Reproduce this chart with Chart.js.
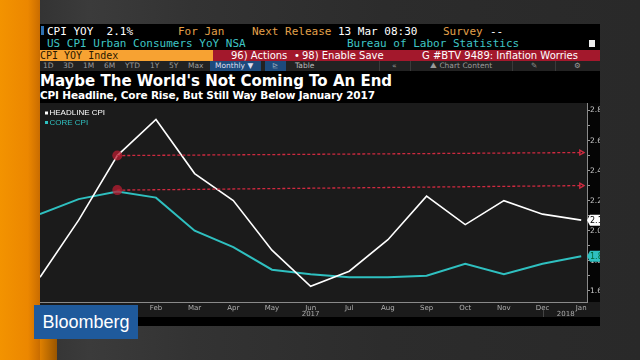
<!DOCTYPE html>
<html><head><meta charset="utf-8">
<script src="https://cdn.jsdelivr.net/npm/chart.js@4.4.1/dist/chart.umd.min.js"></script>
<style>
html,body{margin:0;padding:0;width:640px;height:360px;overflow:hidden;background:#2b2b2b;}
#bg{position:absolute;left:0;top:0;width:640px;height:360px;background:linear-gradient(90deg,#2e2e2e 0,#3b3b3b 14%,#333 30%,#2c2c2c 60%,#292929 100%);}
#orange{position:absolute;left:0;top:0;width:40px;height:360px;background:linear-gradient(90deg,#f39300 0,#ec8700 70%,#c96c00 100%);}
#orange2{position:absolute;left:40px;top:339px;width:17px;height:21px;background:linear-gradient(90deg,#df8000,#9a5600);}
#panel{position:absolute;left:40px;top:24px;width:560px;height:302px;background:#000;overflow:hidden;}
.m{position:absolute;font-family:"DejaVu Sans Mono",monospace;font-size:11px;line-height:13px;white-space:pre;}
.s{position:absolute;font-family:"DejaVu Sans",sans-serif;font-size:10px;line-height:11px;white-space:pre;color:#fff;}
.t{position:absolute;font-family:"DejaVu Sans",sans-serif;font-size:7.5px;line-height:10px;white-space:pre;color:#9a9a9a;}
.w{color:#fff}.o{color:#e3a04a}.c{color:#3fc6c6}
#row3a{position:absolute;left:0;top:26px;width:173px;height:11px;background:#f7a232;}
#row3b{position:absolute;left:173px;top:26px;width:387px;height:11px;background:#a3182c;}
#row4{position:absolute;left:0;top:37px;width:560px;height:10px;background:#222;}
.sep{position:absolute;top:37px;width:1px;height:10px;background:#3a3a3a;}
#title{position:absolute;left:0;top:50px;font-family:"DejaVu Sans",sans-serif;font-weight:bold;font-size:15px;line-height:15px;color:#fff;white-space:pre;}
#sub{position:absolute;left:0;top:66px;font-family:"DejaVu Sans",sans-serif;font-weight:bold;font-size:10.5px;letter-spacing:-0.15px;line-height:11px;color:#fff;white-space:pre;}
#cv{position:absolute;left:0;top:79px;}
#logo{position:absolute;left:34px;top:305px;width:104px;height:34px;background:#1f5a9c;color:#fff;font-family:"Liberation Sans",Arial,sans-serif;font-size:18px;line-height:34px;text-align:center;}
</style></head>
<body>
<div id="bg"></div>
<div id="orange"></div>
<div id="orange2"></div>
<div id="panel">
  <div style="position:absolute;left:1px;top:2px;width:3px;height:9px;background:#2d6fb0"></div>
  <div class="m w" style="left:7px;top:1px">CPI YOY  2.1%</div>
  <div class="m o" style="left:138px;top:1px">For Jan</div>
  <div class="m o" style="left:212px;top:1px">Next Release</div>
  <div class="m w" style="left:298px;top:1px">13 Mar 08:30</div>
  <div class="m o" style="left:403px;top:1px">Survey</div>
  <div class="m w" style="left:450px;top:1px">--</div>
  <div class="m c" style="left:7px;top:13px">US CPI Urban Consumers YoY NSA</div>
  <div class="m c" style="left:307px;top:13px">Bureau of Labor Statistics</div>
  <div style="position:absolute;left:549px;top:16px;width:6px;height:7px;background:#eee"></div>
  <div id="row3a"></div><div id="row3b"></div>
  <div class="m" style="left:0;top:25px;font-size:10px;color:#2a1800">CPI YOY Index</div>
  <div class="s" style="left:191px;top:26px">96) Actions</div>
  <div class="s" style="left:254px;top:26px">•</div>
  <div class="s" style="left:262px;top:26px">98) Enable Save</div>
  <div class="s" style="left:382px;top:26px">G #BTV 9489: Inflation Worries</div>
  <div id="row4"></div>
  <div class="t" style="left:3px;top:37px">1D</div>
  <div class="t" style="left:23px;top:37px">3D</div>
  <div class="t" style="left:43px;top:37px">1M</div>
  <div class="t" style="left:64px;top:37px">6M</div>
  <div class="t" style="left:85px;top:37px">YTD</div>
  <div class="t" style="left:110px;top:37px">1Y</div>
  <div class="t" style="left:129px;top:37px">5Y</div>
  <div class="t" style="left:148px;top:37px">Max</div>
  <div style="position:absolute;left:170px;top:37px;width:51px;height:10px;background:#1d4a7c"></div>
  <div class="t" style="left:175px;top:37px;color:#dde">Monthly ▼</div>
  <div style="position:absolute;left:225px;top:37px;width:21px;height:10px;background:#1d4a7c"></div>
  <div class="t" style="left:232px;top:37px;color:#9ab">⊵</div>
  <div class="t" style="left:255px;top:37px;color:#bbb">Table</div>
  <div class="sep" style="left:339px"></div>
  <div class="t" style="left:352px;top:37px">«</div>
  <div class="sep" style="left:370px"></div>
  <div class="t" style="left:390px;top:37px">⛰ Chart Content</div>
  <div class="sep" style="left:472px"></div>
  <div class="t" style="left:491px;top:37px">✎</div>
  <div class="sep" style="left:515px"></div>
  <div class="t" style="left:534px;top:37px">⚙</div>
  <div id="title">Maybe The World's Not Coming To An End</div>
  <div id="sub">CPI Headline, Core Rise, But Still Way Below January 2017</div>
  <canvas id="cv" width="560" height="215"></canvas>
</div>
<div id="logo">Bloomberg</div>
<script>
const months = ['Nov','Dec','Jan','Feb','Mar','Apr','May','Jun','Jul','Aug','Sep','Oct','Nov','Dec','Jan'];
const years = ['2017','2018'];
const yearPos = [7, 13.6];
const headline = [1.69,2.07,2.50,2.74,2.38,2.20,1.87,1.63,1.73,1.94,2.23,2.04,2.20,2.11,2.07];
const core = [2.11,2.21,2.26,2.22,2.00,1.89,1.74,1.71,1.69,1.69,1.70,1.78,1.71,1.78,1.83];
const seriesNames = ['HEADLINE CPI','CORE CPI'];
const refFrom = 2, refTo = 14;
const refStart = [2.50, 2.27];
const refEnd = [2.52, 2.30];
const yMin = 1.525, yMax = 2.85;

const WHITE = '#ffffff', TEAL = '#2fc0c0', RED = '#d02a40';
const pts = arr => arr.map((v,i)=>({x:i,y:v}));

const refSets = refStart.map((s,k)=>({
  label:'ref'+k,
  data:[{x:refFrom,y:s},{x:refTo,y:refEnd[k]}],
  borderColor:RED, borderWidth:1.3, borderDash:[3,2],
  pointStyle:['circle','triangle'], pointRotation:[0,90],
  pointRadius:[5,2.8], pointBorderWidth:[0,1.3],
  pointBackgroundColor:['rgba(185,30,50,0.75)','rgba(0,0,0,0)'],
  pointBorderColor:['rgba(0,0,0,0)',RED],
  fill:false, tension:0, clip:false
}));

const bgPlugin = {
  id:'bgp',
  beforeDraw(chart){
    const {ctx, chartArea:a, width, height} = chart;
    ctx.save();
    ctx.fillStyle = '#1b1b1b';
    ctx.fillRect(0,0,width,height);
    ctx.fillStyle = '#050505';
    ctx.fillRect(a.right+1,0,width-a.right,a.bottom);
    ctx.fillStyle = '#000';
    ctx.fillRect(0,height-1,width,1);
    ctx.restore();
  },
  afterDraw(chart){
    const {ctx, chartArea:a, scales:{x,y}} = chart;
    ctx.save();
    ctx.font = '7px "DejaVu Sans", sans-serif';
    ctx.fillStyle = '#aaa';
    ctx.textAlign = 'center'; ctx.textBaseline = 'middle';
    years.forEach((t,i)=>ctx.fillText(t, x.getPixelForValue(yearPos[i]), a.bottom+12));
    ctx.strokeStyle = '#444'; ctx.lineWidth = 1;
    ctx.beginPath();
    const sx = Math.round(x.getPixelForValue(13))+0.5;
    ctx.moveTo(sx, a.bottom+8); ctx.lineTo(sx, a.bottom+15); ctx.stroke();
    ctx.textAlign = 'left';
    ctx.font = '8px "Liberation Sans", sans-serif';
    [WHITE, TEAL].forEach((c,i)=>{
      const yy = a.top + 10 + i*9.5;
      ctx.fillStyle = c;
      ctx.fillRect(a.left+5, yy-1.5, 3, 3);
      ctx.fillText(seriesNames[i], a.left+9.5, yy);
    });
    [[headline, WHITE, '#000'],[core, TEAL, '#063']].forEach(([arr,bg,fg])=>{
      const v = arr[arr.length-1];
      const py = y.getPixelForValue(v);
      const x0 = a.right + 2;
      ctx.fillStyle = bg;
      ctx.beginPath();
      ctx.moveTo(x0-2, py);
      ctx.lineTo(x0+1, py-5.5);
      ctx.lineTo(x0+13, py-5.5);
      ctx.lineTo(x0+13, py+5.5);
      ctx.lineTo(x0+1, py+5.5);
      ctx.closePath(); ctx.fill();
      ctx.fillStyle = fg;
      ctx.font = '8px "DejaVu Sans", sans-serif';
      ctx.textAlign = 'left';
      ctx.fillText(v.toFixed(1), x0+1, py+0.5);
    });
    ctx.restore();
  }
};

new Chart(document.getElementById('cv'), {
  type:'line',
  data:{ datasets:[
    ...refSets,
    {label:seriesNames[0], data:pts(headline), borderColor:WHITE, borderWidth:1.6, pointRadius:0, tension:0, fill:false},
    {label:seriesNames[1], data:pts(core), borderColor:TEAL, borderWidth:2, pointRadius:0, tension:0, fill:false}
  ]},
  options:{
    responsive:false, animation:false, devicePixelRatio:1,
    layout:{padding:0, autoPadding:false},
    plugins:{legend:{display:false}, tooltip:{enabled:false}},
    scales:{
      x:{
        type:'linear', min:0, max:14.15,
        grid:{display:false, drawTicks:false, tickLength:0},
        border:{display:true, color:'#8a8a8a', width:1},
        ticks:{stepSize:1, includeBounds:false, autoSkip:false, maxRotation:0, padding:2,
          color:'#b0b0b0', font:{family:'"DejaVu Sans", sans-serif', size:7},
          callback:(v)=> (Number.isInteger(v) && v>0) ? months[v] : ''},
        afterFit:(s)=>{ s.height = 16; s.paddingLeft = 0; s.paddingRight = 0; s.paddingTop = 0; s.paddingBottom = 0; }
      },
      y:{
        type:'linear', position:'right', min:yMin, max:yMax,
        grid:{display:true, drawOnChartArea:false, drawTicks:true, tickLength:3, tickColor:'#999'},
        border:{display:true, color:'#8a8a8a', width:1},
        ticks:{stepSize:0.1, includeBounds:false, autoSkip:false, padding:0,
          color:'#c8c8c8', font:{family:'"DejaVu Sans", sans-serif', size:7.5},
          callback:(v)=> (Math.round(v*10)%2===0) ? v.toFixed(1) : ''},
        afterFit:(s)=>{ s.width = 13; s.paddingTop = 0; s.paddingBottom = 0; s.paddingLeft = 0; s.paddingRight = 0; }
      }
    }
  },
  plugins:[bgPlugin]
});
</script>
</body></html>
